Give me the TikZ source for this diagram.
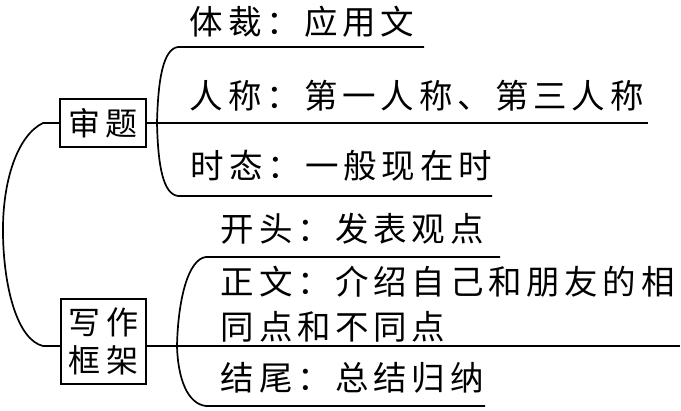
\documentclass[tikz,border=0pt]{standalone}
\usepackage{fontspec}
\newfontfamily\cjk{Noto Sans CJK SC}
\makeatletter
\newcommand\spacedtext[3][l]{\@tfor\sp@ch:=#3\do{\makebox[#2][#1]{\sp@ch}}}
\makeatother
\begin{document}
\begin{tikzpicture}[x=1pt,y=-1pt,line width=1.7pt,
  lbl/.style={anchor=base west,inner sep=0pt,font=\cjk\fontsize{33.5}{33.5}\selectfont},
  boxnode/.style={draw,inner sep=0pt,align=center,font=\cjk\fontsize{32}{38}\selectfont}]
\useasboundingbox (0,0) rectangle (681,411);
% boxes
\node[boxnode,minimum width=86pt,minimum height=48pt] (b1) at (103,123) {\spacedtext[c]{38pt}{审题}};
\node[boxnode,minimum width=85pt,minimum height=85pt] (b2) at (103.5,341.5) {\spacedtext[c]{39pt}{写作}\\\spacedtext[c]{39pt}{框架}};
% upper labels
\node[lbl] (t1) at (189,35) {\spacedtext{38.2pt}{体裁：应用文}};
\node[lbl] (t2) at (189,109) {\spacedtext{38.2pt}{人称：第一人称、第三人称}};
\node[lbl] (t3) at (190,179) {\spacedtext{38.2pt}{时态：一般现在时}};
% lower labels
\node[lbl] (t4) at (220,242) {\spacedtext{38.2pt}{开头：发表观点}};
\node[lbl] (t5) at (220,295) {\spacedtext{38.2pt}{正文：介绍自己和朋友的相}};
\node[lbl] (t6) at (220,340) {\spacedtext{38.2pt}{同点和不同点}};
\node[lbl] (t7) at (220,391) {\spacedtext{38.2pt}{结尾：总结归纳}};
% junction coordinates
\coordinate (L1) at (43,123);
\coordinate (L2) at (43,346);
\coordinate (U0) at (157,123);
\coordinate (U1) at (424,47);
\coordinate (U2) at (648,123);
\coordinate (U3) at (492,196);
\coordinate (D0) at (177,346);
\coordinate (D1) at (500,257);
\coordinate (D2) at (680,346);
\coordinate (D3) at (485,406);
% left bracket
\draw (b1.west) -- (L1) .. controls (18,135) and (2,180) .. (3,235)
      .. controls (4,290) and (18,340) .. (L2) -- (b2.west |- L2);
% upper bracket
\draw (b1.east) -- (U2);
\draw (U0) .. controls (158,80) and (163,49) .. (178,47) -- (U1);
\draw (U0) .. controls (158,166) and (163,194) .. (178,196) -- (U3);
% lower bracket
\draw (b2.east |- D0) -- (D2);
\draw (D0) .. controls (178,300) and (188,259) .. (206,257) -- (D1);
\draw (D0) .. controls (178,380) and (188,404) .. (206,406) -- (D3);
\end{tikzpicture}
\end{document}
